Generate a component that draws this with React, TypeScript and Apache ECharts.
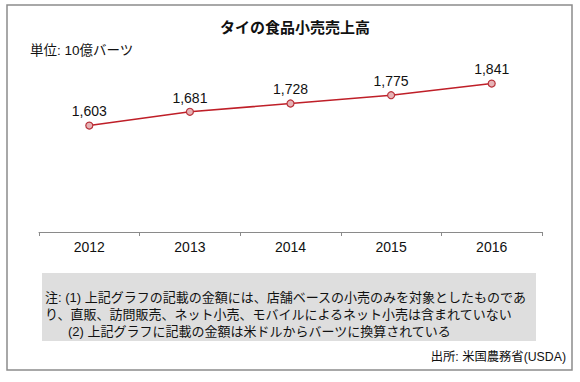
import React, { useEffect, useRef } from "react";
import * as echarts from "echarts";

const years = ["2012", "2013", "2014", "2015", "2016"];
const sales = [1603, 1681, 1728, 1775, 1841];
const titleText = "タイの食品小売売上高";
const unitText = "単位: 10億バーツ";
const noteLines = [
  "注: (1) 上記グラフの記載の金額には、店舗ベースの小売のみを対象としたものであ",
  "り、直販、訪問販売、ネット小売、モバイルによるネット小売は含まれていない",
  "(2) 上記グラフに記載の金額は米ドルからバーツに換算されている",
];
const sourceText = "出所: 米国農務省(USDA)";

const FONT = "'Liberation Sans', 'Noto Sans CJK JP', sans-serif";

export default function App() {
  const ref = useRef<HTMLDivElement>(null);
  useEffect(() => {
    if (!ref.current) return;
    const chart = echarts.init(ref.current, null, { renderer: "svg" });
    chart.setOption({
      animation: false,
      backgroundColor: "#ffffff",
      textStyle: { fontFamily: FONT },
      title: {
        text: titleText,
        left: 290,
        textAlign: "center",
        top: 15,
        textStyle: { fontSize: 15, fontWeight: "bold", color: "#111", fontFamily: FONT },
      },
      grid: { left: 39, right: 38, top: 55.5, bottom: 150 },
      xAxis: {
        type: "category",
        data: years,
        boundaryGap: true,
        axisLine: { lineStyle: { color: "#8a8a8a", width: 1 } },
        axisTick: { show: true, length: 4, lineStyle: { color: "#8a8a8a" } },
        axisLabel: { color: "#111", fontSize: 14, margin: 8, fontFamily: FONT },
      },
      yAxis: {
        type: "value",
        min: 1000,
        max: 2000,
        show: false,
        splitLine: { show: false },
      },
      series: [
        {
          type: "line",
          data: sales,
          symbol: "circle",
          symbolSize: 7,
          lineStyle: { color: "#bf1f28", width: 1.6 },
          itemStyle: { color: "#e6b3b6", borderColor: "#b8323a", borderWidth: 1.2 },
          label: {
            show: true,
            position: "top",
            distance: 3,
            fontSize: 14,
            color: "#111",
            fontFamily: FONT,
            formatter: (p: any) => Number(p.value).toLocaleString("en-US"),
          },
        },
      ],
      graphic: [
        {
          type: "rect",
          shape: { x: 7, y: 5, width: 565, height: 365 },
          style: { fill: "none", stroke: "#8c8c8c", lineWidth: 1.5 },
          z: 10,
        },
        {
          type: "text",
          x: 30,
          y: 50,
          style: { text: unitText, font: `13.5px ${FONT}`, fill: "#111", textVerticalAlign: "middle" },
        },
        {
          type: "rect",
          shape: { x: 42, y: 273, width: 494, height: 68 },
          style: { fill: "#dedede" },
        },
        {
          type: "text",
          x: 45,
          y: 297,
          style: { text: noteLines[0], font: `13px ${FONT}`, fill: "#111", textVerticalAlign: "middle" },
        },
        {
          type: "text",
          x: 45,
          y: 314.5,
          style: { text: noteLines[1], font: `13px ${FONT}`, fill: "#111", textVerticalAlign: "middle" },
        },
        {
          type: "text",
          x: 68,
          y: 331,
          style: { text: noteLines[2], font: `13px ${FONT}`, fill: "#111", textVerticalAlign: "middle" },
        },
        {
          type: "text",
          x: 566,
          y: 357,
          style: { text: sourceText, font: `12.3px ${FONT}`, fill: "#111", textAlign: "right", textVerticalAlign: "middle" },
        },
      ],
    });
    return () => chart.dispose();
  }, []);
  return (
    <div
      ref={ref}
      style={{ position: "fixed", left: 0, top: 0, width: 580, height: 382 }}
    />
  );
}
